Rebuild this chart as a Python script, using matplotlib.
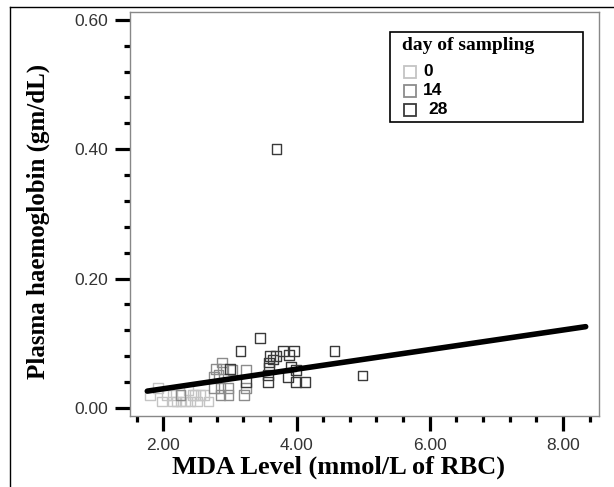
import matplotlib
matplotlib.use("Agg")
import matplotlib.pyplot as plt
import numpy as np
from matplotlib.lines import Line2D
from matplotlib.patches import Rectangle
from matplotlib.ticker import MultipleLocator, FormatStrFormatter

# Day 0 (light gray)
mda_d0 = [1.80, 1.92, 1.98, 2.14, 2.15, 2.26, 2.26, 2.33, 2.38, 2.41, 2.48, 2.51, 2.56, 2.68, 2.05, 2.20, 2.62, 2.45]
hb_d0 = [0.020, 0.031, 0.010, 0.020, 0.010, 0.020, 0.010, 0.010, 0.028, 0.010, 0.020, 0.010, 0.020, 0.010, 0.020, 0.010, 0.020, 0.020]
# Day 14 (medium gray)
mda_d14 = [2.26, 2.88, 2.79, 2.89, 2.76, 2.83, 2.76, 2.86, 2.97, 2.86, 2.98, 3.04, 3.24, 3.24, 3.21]
hb_d14 = [0.020, 0.070, 0.060, 0.060, 0.048, 0.051, 0.031, 0.031, 0.031, 0.020, 0.020, 0.059, 0.059, 0.031, 0.020]
# Day 28 (dark)
mda_d28 = [3.00, 3.16, 3.45, 3.80, 3.96, 4.57, 3.60, 3.65, 3.69, 3.89, 3.59, 3.59, 3.57, 3.57, 3.87, 3.99, 4.13, 3.99, 3.92, 4.99, 3.24, 3.70]
hb_d28 = [0.060, 0.088, 0.108, 0.088, 0.088, 0.088, 0.080, 0.075, 0.080, 0.082, 0.070, 0.062, 0.040, 0.051, 0.048, 0.040, 0.040, 0.059, 0.064, 0.050, 0.040, 0.400]

fit_x = [1.76, 8.34]
fit_slope = 0.01514
fit_intercept = -0.0006

x_ticks = [2.0, 4.0, 6.0, 8.0]
y_ticks = [0.0, 0.2, 0.4, 0.6]
legend_title = "day of sampling"
legend_labels = ["0", "14", "28"]
group_colors = ["#c4c4c4", "#8c8c8c", "#3a3a3a"]

W, H = 614, 487
fig = plt.figure(figsize=(W/100, H/100), dpi=100)
ax = fig.add_axes([130/W, 1-416/H, (599-130)/W, (416-12)/H])

def P(x, y):
    return (x/W, 1-y/H)

groups = [(mda_d0, hb_d0), (mda_d14, hb_d14), (mda_d28, hb_d28)]
for (xs, ys), col in zip(groups, group_colors):
    ax.scatter(xs, ys, marker="s", s=48, facecolors="none", edgecolors=col, linewidths=1.0, zorder=2)

fx = np.array(fit_x)
ax.plot(fx, fit_intercept + fit_slope*fx, color="black", lw=4, solid_capstyle="round", zorder=3)

ax.set_xlim(1.5, 8.54)
ax.set_ylim(-0.0124, 0.612)
ax.set_xticks(x_ticks)
ax.set_yticks(y_ticks)
ax.xaxis.set_minor_locator(MultipleLocator(0.4))
ax.yaxis.set_minor_locator(MultipleLocator(0.04))
ax.xaxis.set_major_formatter(FormatStrFormatter("%.2f"))
ax.yaxis.set_major_formatter(FormatStrFormatter("%.2f"))
ax.tick_params(which="major", direction="out", length=11, width=2.3, color="black",
               labelsize=12.5, labelcolor="#333333", pad=5)
ax.tick_params(which="minor", direction="out", length=4, width=2.3, color="black")
for lab in ax.get_xticklabels() + ax.get_yticklabels():
    lab.set_family("Liberation Sans")
for sp in ax.spines.values():
    sp.set_color("#888888")
    sp.set_linewidth(1.0)

fig.text(*P(338, 467), "MDA Level (mmol/L of RBC)", family="Liberation Serif", weight="bold",
         fontsize=19, ha="center", va="center")
fig.text(*P(38, 221), "Plasma haemoglobin (gm/dL)", family="Liberation Serif", weight="bold",
         fontsize=18, ha="center", va="center", rotation=90)

# legend (manual)
lx0, ly0, lx1, ly1 = 390, 32, 583, 122
fig.add_artist(Rectangle(P(lx0, ly1), (lx1-lx0)/W, (ly1-ly0)/H, transform=fig.transFigure,
                         facecolor="white", edgecolor="black", lw=1.2, zorder=5))
fig.text(*P(402, 46), legend_title, family="Liberation Serif", weight="bold", fontsize=14,
         ha="left", va="center", zorder=6)
rows_y = [72, 91, 110]
label_x = [423, 423, 428]
for lab, col, ry, lxx in zip(legend_labels, group_colors, rows_y, label_x):
    fig.add_artist(Line2D([410/W], [1-ry/H], marker="s", markersize=8.5, markerfacecolor="none",
                          markeredgecolor=col, markeredgewidth=1.3, linestyle="none",
                          transform=fig.transFigure, zorder=6))
    fig.text(*P(lxx, ry), lab, family="Liberation Sans", weight="bold", fontsize=12.5,
             ha="left", va="center", zorder=6)

# outer frame
def fl(x0, y0, x1, y1):
    fig.add_artist(Line2D([x0/W, x1/W], [1-y0/H, 1-y1/H], color="black", lw=1.0, transform=fig.transFigure))
fl(10, 7, 614, 7)
fl(10, 7, 10, 487)

fig.savefig("out.png", dpi=100)
